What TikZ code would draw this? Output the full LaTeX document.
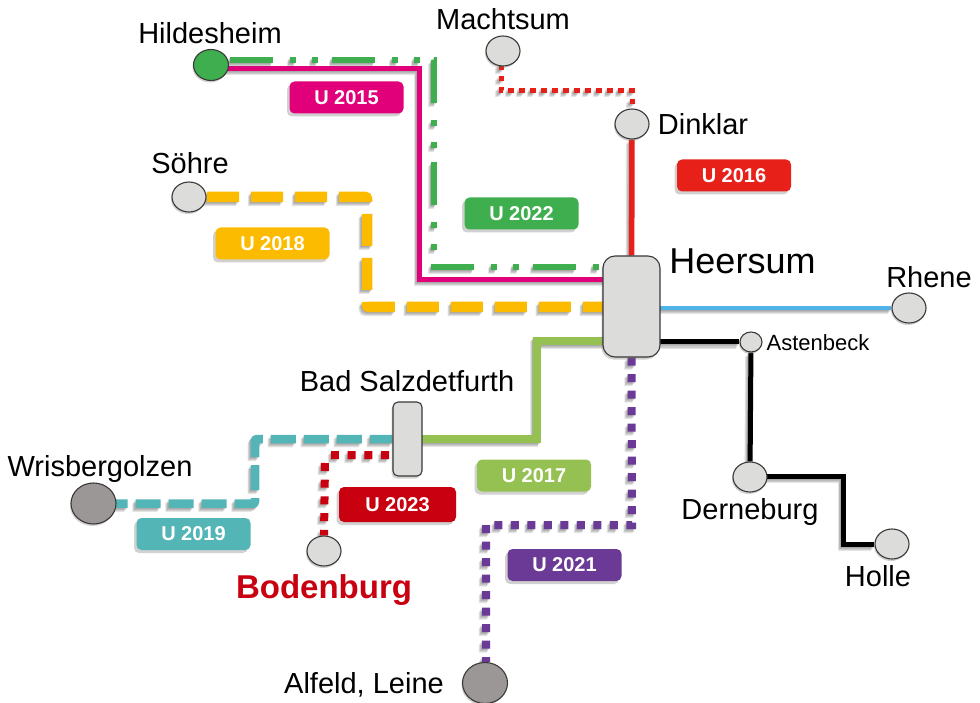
\documentclass[tikz,border=0pt]{standalone}
\usepackage{fontspec}
\setmainfont{Liberation Sans}
\usetikzlibrary{shapes.geometric,backgrounds}
\definecolor{stn}{HTML}{DCDCDB}
\definecolor{stnd}{HTML}{9A9796}
\definecolor{edge}{HTML}{3C3838}
\definecolor{cmag}{HTML}{E2007A}
\definecolor{cgrn}{HTML}{3FAE4F}
\definecolor{cred}{HTML}{E8201A}
\definecolor{cyel}{HTML}{FDBB00}
\definecolor{clgr}{HTML}{95C153}
\definecolor{ctea}{HTML}{54B5B7}
\definecolor{cdrd}{HTML}{C8000F}
\definecolor{cpur}{HTML}{6A3A96}
\definecolor{cblu}{HTML}{4FB3E8}
\newcommand\railline[3]{%
  \foreach \sx/\sy in {-3.2/-4,-2.4/-3,-1.6/-2,-.8/-1}{%
    \begin{scope}[transform canvas={shift={(\sx pt,\sy pt)}}]
      \draw[draw=black!70,opacity=.15,#1] #3;
    \end{scope}}%
  \draw[draw=#2,#1] #3;}
\tikzset{
  x=1pt,y=-1pt,
  station/.style={ellipse,draw=edge,line width=1.1pt,fill=stn,inner sep=0pt,minimum width=34pt,minimum height=30pt,
                  preaction={draw=none,fill=black!60,opacity=.3,transform canvas={shift={(-1pt,-2pt)}}}},
  hub/.style={rectangle,rounded corners=#1,draw=edge,line width=1.1pt,fill=stn,inner sep=0pt,
                  preaction={draw=none,fill=black!60,opacity=.3,transform canvas={shift={(-1.5pt,-2.5pt)}}}},
  tag/.style={rectangle,rounded corners=5pt,fill=#1,text=white,font=\bfseries\fontsize{20}{20}\selectfont,
              inner sep=0pt,minimum width=114pt,minimum height=32pt,
              preaction={fill=black!60,draw=none,opacity=.3,transform canvas={shift={(-2.5pt,-3pt)}}}},
  place/.style={anchor=base,inner sep=0pt,font=\fontsize{#1}{#1}\selectfont},
  place/.default=29
}
\begin{document}
\begin{tikzpicture}
\useasboundingbox (0,0) rectangle (980,703);
% stations
\node[station,fill=cgrn,minimum width=35pt,minimum height=31pt] (hil) at (211,65) {};
\node[station] (mac) at (503,51) {};
\node[station] (din) at (632,124) {};
\node[station] (soh) at (189,197) {};
\node[station] (rhe) at (909,308) {};
\node[station,minimum width=22pt,minimum height=20pt] (ast) at (751,342) {};
\node[station] (der) at (750,477) {};
\node[station] (hol) at (892,544) {};
\node[station] (bod) at (324,551) {};
\node[station,fill=stnd,minimum width=45pt,minimum height=41pt] (wri) at (93.5,503.5) {};
\node[station,fill=stnd,minimum width=45pt,minimum height=41pt] (alf) at (485,683) {};
\node[hub=12pt,minimum width=57pt,minimum height=101pt] (hee) at (631.5,306.5) {};
\node[hub=5pt,minimum width=29pt,minimum height=74pt] (bad) at (407.5,439) {};
% bends
\coordinate (g1) at (434,60);
\coordinate (g2) at (434,267);
\coordinate (m1) at (419.5,69);
\coordinate (m2) at (419.5,279.5);
\coordinate (y1) at (367,197);
\coordinate (y2) at (367,307);
\coordinate (r1) at (501,90.5);
\coordinate (r2) at (632,90.5);
\coordinate (l1) at (537,439);
\coordinate (l2) at (537,341);
\coordinate (t1) at (255,503.5);
\coordinate (t2) at (255,439);
\coordinate (d1) at (389,455);
\coordinate (d2) at (331,455);
\coordinate (d3) at (325,463);
\coordinate (p1) at (632,525);
\coordinate (p2) at (486,525);
\coordinate (k1) at (750,476);
\coordinate (k2) at (843.5,476);
\coordinate (k3) at (843.5,544);
% connectors
\begin{scope}[on background layer]
\railline{line width=5pt}{cmag}{([yshift=-4pt]hil.center) -- (m1) -- (m2) -- (m2 -| hee.center)}
\railline{line width=5.5pt,dash pattern=on 43pt off 17pt on 6pt off 16pt on 6pt off 14pt,dash phase=83pt}{cgrn}{([yshift=5pt]hil.center) -- (g1) -- (g2) -- (g2 -| hee.west)}
\railline{line width=10.5pt,rounded corners=2pt,dash pattern=on 32pt off 12pt,dash phase=26pt}{cyel}{(soh.center) -- (y1) -- (y2) -- (y2 -| hee.center)}
\railline{line width=5.5pt}{cred}{(din) -- (hee)}
\railline{line width=5pt,dash pattern=on 5.5pt off 5.5pt}{cred}{(mac.south) -- (mac.south -| r1) -- (r1) -- (r2) -- (din.north)}
\railline{line width=4pt}{cblu}{(hee.center |- rhe.center) -- (rhe)}
\railline{line width=5pt}{black}{(hee.center |- ast.center) -- (ast)}
\railline{line width=5pt}{black}{(ast) -- (der)}
\railline{line width=5pt}{black}{(k1) -- (k2) -- (k3) -- (hol)}
\railline{line width=7.5pt}{clgr}{(bad.center) -- (l1) -- (l2) -- (l2 -| hee.center)}
\railline{line width=8.5pt,rounded corners=2pt,dash pattern=on 25pt off 8pt,dash phase=24pt}{ctea}{(wri.center) -- (t1) -- (t2) -- (bad.west |- t2)}
\railline{line width=8pt,dash pattern=on 8pt off 8.7pt}{cdrd}{(d1) -- (d2) (d3) -- (bod.north)}
\railline{line width=8pt,dash pattern=on 8pt off 8.5pt}{cpur}{(hee.south) -- (p1) -- (p2) -- (p2 |- alf.north)}
\end{scope}
% tags
\node[tag=cmag] (t15) at (346.5,97.5) {U 2015};
\node[tag=cred] (t16) at (734,175.5) {U 2016};
\node[tag=cgrn] (t22) at (521.5,213.5) {U 2022};
\node[tag=cyel] (t18) at (272.5,243.5) {U 2018};
\node[tag=clgr] (t17) at (534,475.5) {U 2017};
\node[tag=cdrd,minimum width=117pt,minimum height=35pt] (t23) at (397.5,504.5) {U 2023};
\node[tag=ctea] (t19) at (193.5,534) {U 2019};
\node[tag=cpur] (t21) at (564.5,565) {U 2021};
% place names
\node[place] (nhil) at (210,44) {Hildesheim};
\node[place] (nmac) at (503,30) {Machtsum};
\node[place] (ndin) at (703,135) {Dinklar};
\node[place] (nsoh) at (190,174) {Söhre};
\node[place=36] (nhee) at (742.5,273.5) {Heersum};
\node[place] (nrhe) at (929,288) {Rhene};
\node[place=22] (nast) at (818,350) {Astenbeck};
\node[place] (nbad) at (407,391) {Bad Salzdetfurth};
\node[place] (nwri) at (100,476) {Wrisbergolzen};
\node[place] (nder) at (750,519) {Derneburg};
\node[place] (nhol) at (878,586) {Holle};
\node[place=33,text=cdrd,font=\bfseries\fontsize{33}{33}\selectfont] (nbod) at (324,598) {Bodenburg};
\node[place] (nalf) at (364,693) {Alfeld, Leine};
\end{tikzpicture}
\end{document}
